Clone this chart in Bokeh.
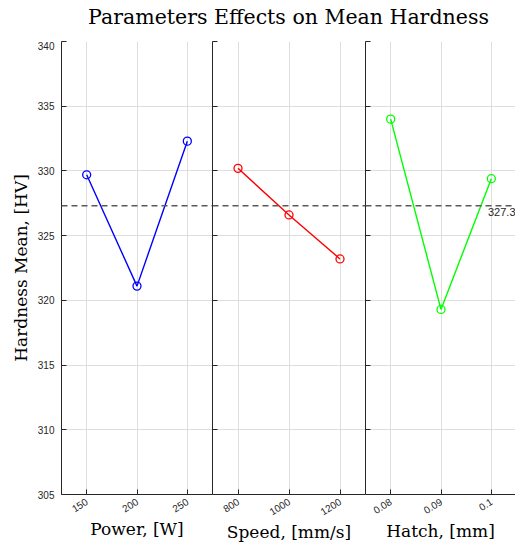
import math
from bokeh.plotting import figure
from bokeh.layouts import row, column
from bokeh.models import Span, Label, FixedTicker, Range1d, Title
from bokeh.embed import file_html
from bokeh.resources import INLINE

# ---- data ----
power = [150, 200, 250]
power_hv = [329.7, 321.1, 332.3]
speed = [800, 1000, 1200]
speed_hv = [330.2, 326.6, 323.2]
hatch = [0.08, 0.09, 0.1]
hatch_hv = [334.0, 319.3, 329.4]
grand_mean = 327.3
y_ticks = [305, 310, 315, 320, 325, 330, 335, 340]
power_labels = {150: "150", 200: "200", 250: "250"}
speed_labels = {800: "800", 1000: "1000", 1200: "1200"}
hatch_labels = {0.08: "0.08", 0.09: "0.09", 0.1: "0.1"}

TITLE = "Parameters Effects on Mean Hardness"
YLABEL = "Hardness Mean, [HV]"

SERIF = "DejaVu Serif"
SANS = "Liberation Sans"
AXC = "#262626"
GRIDC = "#dedede"

TOP = 41
FRAME_H = 453
BOTTOM = 51
H = FRAME_H + BOTTOM


def make_panel(xs, ys, color, xr, ticks, labels, xlabel, width, left_border, show_ylabels):
    p = figure(width=width, height=H, x_range=Range1d(*xr), y_range=Range1d(305, 340),
               output_backend="svg", toolbar_location=None, tools="",
               min_border_left=left_border, min_border_right=0,
               min_border_top=0, min_border_bottom=BOTTOM)
    p.outline_line_color = None
    p.background_fill_color = "white"
    p.border_fill_color = "white"

    for g in (p.xgrid, p.ygrid):
        g.grid_line_color = GRIDC
        g.grid_line_width = 1
    p.xaxis.ticker = FixedTicker(ticks=ticks)
    p.yaxis.ticker = FixedTicker(ticks=y_ticks)
    p.xaxis.major_label_overrides = labels

    for ax in (p.xaxis, p.yaxis):
        ax.axis_line_color = AXC
        ax.axis_line_width = 1
        ax.major_tick_line_color = AXC
        ax.major_tick_in = 5
        ax.major_tick_out = 0
        ax.minor_tick_line_color = None
        ax.major_label_text_font = SANS
        ax.major_label_text_font_size = "10px"
        ax.major_label_text_color = AXC

    p.xaxis.major_label_orientation = math.radians(32)
    p.xaxis.major_label_standoff = 6
    p.xaxis.axis_label = xlabel
    p.xaxis.axis_label_text_font = SERIF
    p.xaxis.axis_label_text_font_style = "normal"
    p.xaxis.axis_label_text_font_size = "17px"
    p.xaxis.axis_label_text_color = "black"
    p.xaxis.axis_label_standoff = 0

    if show_ylabels:
        p.yaxis.major_label_standoff = 7
        p.yaxis.axis_label = YLABEL
        p.yaxis.axis_label_text_font = SERIF
        p.yaxis.axis_label_text_font_style = "normal"
        p.yaxis.axis_label_text_font_size = "17px"
        p.yaxis.axis_label_text_color = "black"
        p.yaxis.axis_label_standoff = 4
    else:
        p.yaxis.major_label_text_font_size = "0px"
        p.yaxis.major_label_text_color = None
        p.yaxis.major_label_standoff = 0
        p.yaxis.axis_label = None

    p.add_layout(Span(location=grand_mean, dimension="width", line_color="#5a5a5a",
                      line_width=1.5, line_dash="6 4"))

    p.line(xs, ys, line_color=color, line_width=1.4)
    p.scatter(xs, ys, marker="circle", size=8, fill_color=None,
              line_color=color, line_width=1.3)
    return p


p1 = make_panel(power, power_hv, "#0000ff", (125, 275), power, power_labels,
                "Power, [W]", 212, 61, True)
p2 = make_panel(speed, speed_hv, "#ff0000", (700, 1300), speed, speed_labels,
                "Speed, [mm/s]", 153, 0, False)
p3 = make_panel(hatch, hatch_hv, "#00ff00", (0.075, 0.1048), hatch, hatch_labels,
                "Hatch, [mm]", 150, 0, False)

p3.add_layout(Label(x=0.1048, y=grand_mean, text="%.1f" % grand_mean,
                    text_align="right", text_baseline="top", y_offset=-2,
                    text_font=SANS, text_font_size="11px", text_color=AXC))

# title strip
pt = figure(width=515, height=TOP, output_backend="svg", toolbar_location=None, tools="",
            min_border_left=61, min_border_right=0, min_border_top=0, min_border_bottom=0)
pt.outline_line_color = None
pt.axis.visible = False
pt.grid.visible = False
pt.title = Title(text=TITLE, align="center", text_font=SERIF,
                 text_font_size="20.5px", text_font_style="normal",
                 text_color="black", standoff=4)

layout = column(pt, row(p1, p2, p3, spacing=0), spacing=0)
open("out.html", "w").write(file_html(layout, INLINE))
